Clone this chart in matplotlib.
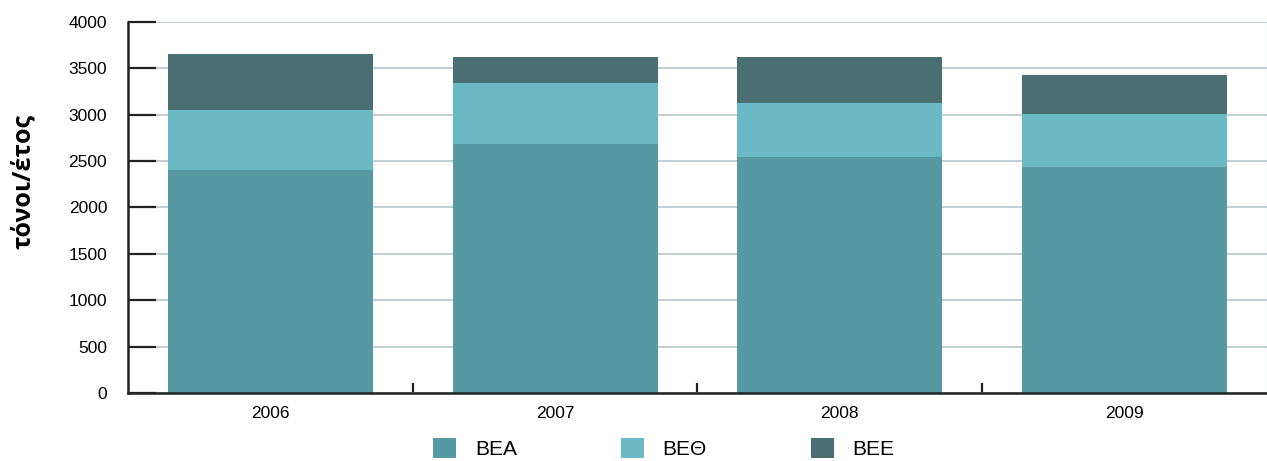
import matplotlib
matplotlib.use("Agg")
import matplotlib.pyplot as plt
from matplotlib.patches import Patch

# Δεδομένα (τόνοι/έτος)
years = ['2006', '2007', '2008', '2009']
bea = [2404, 2685, 2544, 2437]
beth = [647, 657, 583, 571]
bee = [604, 281, 496, 421]

labels = ['BEA', 'BEΘ', 'BEE']
colors = ['#5799a2', '#6bb9c5', '#4a6f72']

plt.rcParams['font.family'] = ['Liberation Sans', 'DejaVu Sans']

fig = plt.figure(figsize=(12.67, 4.61), dpi=100)
ax = fig.add_axes([0.101, 0.1475, 0.899, 0.8048])

x = list(range(len(years)))
bottom2 = [a + b for a, b in zip(bea, beth)]
ax.bar(x, bea, width=0.72, color=colors[0], zorder=2)
ax.bar(x, beth, width=0.72, bottom=bea, color=colors[1], zorder=2)
ax.bar(x, bee, width=0.72, bottom=bottom2, color=colors[2], zorder=2)

ax.set_xlim(-0.5, 3.5)
ax.set_ylim(0, 4000)
ax.set_yticks(range(0, 4001, 500))
ax.set_xticks(x)
ax.set_xticklabels(years)
ax.set_xticks([0.5, 1.5, 2.5], minor=True)

ax.grid(axis='y', color='#b9c6cc', linewidth=1.2, zorder=0)
ax.tick_params(axis='y', direction='in', length=20, width=1.6, color='#222222',
               labelsize=12.5, pad=15)
ax.tick_params(axis='x', which='major', length=0, labelsize=12.5, pad=9)
ax.tick_params(axis='x', which='minor', direction='in', length=7, width=1.6, color='#222222')

for s in ['left', 'bottom']:
    ax.spines[s].set_linewidth(1.8)
    ax.spines[s].set_color('#222222')
ax.spines['top'].set_visible(False)
ax.spines['right'].set_color('#d0d8dc')
ax.spines['right'].set_linewidth(1.0)

ax.set_ylabel('τόνοι/έτος', fontsize=18, fontweight='bold', family=['Open Sans', 'DejaVu Sans'])
ax.yaxis.set_label_coords(-0.081, 0.57)

handles = [Patch(facecolor=c, edgecolor='none') for c in colors]
fig.legend(handles, labels, loc='center', bbox_to_anchor=(0.524, 0.027), ncol=3,
           frameon=False, fontsize=15, handlelength=1.1, handleheight=1.1,
           handletextpad=0.9, columnspacing=5.0)

fig.savefig('out.png', dpi=100)
